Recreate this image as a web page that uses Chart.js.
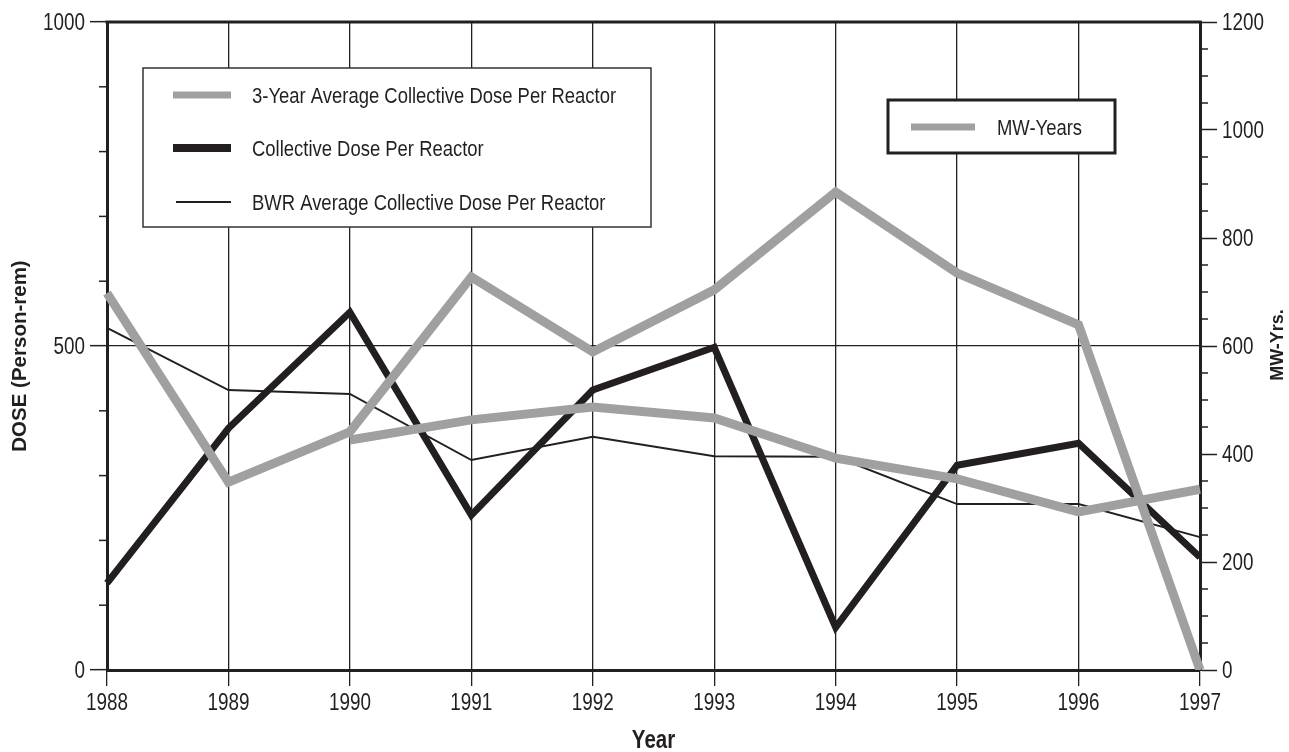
<!DOCTYPE html>
<html>
<head>
<meta charset="utf-8">
<script src="https://cdn.jsdelivr.net/npm/chart.js@4"></script>
<style>
  html, body { margin: 0; padding: 0; background: #fff; }
  #wrap { width: 1289px; height: 752px; }
</style>
</head>
<body>
<div id="wrap"><canvas id="doseChart" width="1289" height="752"></canvas></div>
<script>
const years = ['1988', '1989', '1990', '1991', '1992', '1993', '1994', '1995', '1996', '1997'];
const mwYears = [698, 348, 441, 728, 589, 704, 885, 735, 639, 0];
const threeYearAvg = [null, null, 355, 386, 406, 389, 327, 295, 244, 279];
const collectiveDose = [134, 373, 552, 239, 432, 498, 66, 316, 350, 174];
const bwrAverage = [528, 432, 426, 324, 360, 330, 329, 256, 256, 205];
const doseTicks = [0, 500, 1000];
const mwTicks = [0, 200, 400, 600, 800, 1000, 1200];

const INK = '#231f20';
const GRAY = '#a0a0a0';
const SANS = "'Liberation Sans', Arial, sans-serif";
const SQUEEZE = 0.82; // no narrow face installed, so condense Liberation Sans by hand

// text in a condensed look: horizontal squeeze around the anchor point
function narrowText(ctx, text, x, y, size, align, bold) {
  ctx.save();
  ctx.translate(x, y);
  ctx.scale(SQUEEZE, 1);
  ctx.font = `${bold ? 'bold ' : ''}${size}px ${SANS}`;
  ctx.textAlign = align;
  ctx.textBaseline = 'alphabetic';
  ctx.fillStyle = INK;
  ctx.fillText(text, 0, 0);
  ctx.restore();
}

const decorations = {
  id: 'decorations',
  afterDraw(chart) {
    const { ctx, chartArea: a, scales } = chart;
    const ds = chart.data.datasets;
    ctx.save();
    ctx.strokeStyle = INK;
    ctx.lineWidth = 3;
    ctx.beginPath();
    ctx.moveTo(a.left - 1.5, a.top);
    ctx.lineTo(a.right + 1.5, a.top);
    ctx.stroke();

    // minor ticks
    ctx.lineWidth = 1.5;
    for (let v = 100; v < 1000; v += 100) {
      if (v % 500 === 0) continue;
      const y = scales.y.getPixelForValue(v);
      ctx.beginPath(); ctx.moveTo(a.left - 8, y); ctx.lineTo(a.left, y); ctx.stroke();
    }
    for (let v = 50; v < 1200; v += 50) {
      if (v % 200 === 0) continue;
      const y = scales.y1.getPixelForValue(v);
      ctx.beginPath(); ctx.moveTo(a.right, y); ctx.lineTo(a.right + 8, y); ctx.stroke();
    }
    ctx.restore();

    // tick labels
    chart.data.labels.forEach((lab, i) => narrowText(ctx, lab, scales.x.getPixelForTick(i), 710, 23, 'center'));
    doseTicks.forEach(v => narrowText(ctx, String(v), a.left - 22, scales.y.getPixelForValue(v) + 8, 23, 'right'));
    mwTicks.forEach(v => narrowText(ctx, String(v), a.right + 22, scales.y1.getPixelForValue(v) + 8, 23, 'left'));

    // axis titles
    narrowText(ctx, 'Year', (a.left + a.right) / 2, 748, 25, 'center', true);
    ctx.save();
    ctx.fillStyle = INK;
    ctx.textAlign = 'center';
    ctx.textBaseline = 'middle';
    ctx.font = `bold 20.5px ${SANS}`;
    ctx.translate(20, 356);
    ctx.rotate(-Math.PI / 2);
    ctx.fillText('DOSE (Person-rem)', 0, 0);
    ctx.restore();
    ctx.save();
    ctx.fillStyle = INK;
    ctx.textAlign = 'center';
    ctx.textBaseline = 'middle';
    ctx.font = `bold 18px ${SANS}`;
    ctx.translate(1278, 345);
    ctx.rotate(-Math.PI / 2);
    ctx.fillText('MW-Yrs.', 0, 0);
    ctx.restore();

    // dose legend
    ctx.save();
    ctx.fillStyle = '#fff';
    ctx.fillRect(143, 68, 508, 159);
    ctx.strokeStyle = '#333';
    ctx.lineWidth = 1.5;
    ctx.strokeRect(143, 68, 508, 159);
    [[1, 95, 7], [2, 148, 8], [3, 202, 2]].forEach(([i, y, w]) => {
      ctx.strokeStyle = ds[i].borderColor;
      ctx.lineWidth = w;
      ctx.beginPath(); ctx.moveTo(i === 3 ? 176 : 173, y); ctx.lineTo(231, y); ctx.stroke();
      narrowText(ctx, ds[i].label, 252, y + 8, 22.5, 'left');
    });

    // MW legend
    ctx.fillStyle = '#fff';
    ctx.fillRect(888, 100, 227, 53);
    ctx.strokeStyle = INK;
    ctx.lineWidth = 3;
    ctx.strokeRect(888, 100, 227, 53);
    ctx.strokeStyle = ds[0].borderColor;
    ctx.lineWidth = 7;
    ctx.beginPath(); ctx.moveTo(911, 127); ctx.lineTo(975, 127); ctx.stroke();
    ctx.restore();
    narrowText(ctx, ds[0].label, 997, 135, 22.5, 'left');
  }
};

new Chart(document.getElementById('doseChart'), {
  type: 'line',
  data: {
    labels: years,
    datasets: [
      { label: 'MW-Years', data: mwYears, yAxisID: 'y1', borderColor: GRAY, borderWidth: 9, order: 0 },
      { label: '3-Year Average Collective Dose Per Reactor', data: threeYearAvg, yAxisID: 'y', borderColor: GRAY, borderWidth: 9, order: 1 },
      { label: 'Collective Dose Per Reactor', data: collectiveDose, yAxisID: 'y', borderColor: INK, borderWidth: 7, order: 2 },
      { label: 'BWR Average Collective Dose Per Reactor', data: bwrAverage, yAxisID: 'y', borderColor: INK, borderWidth: 2, order: 3 }
    ]
  },
  options: {
    responsive: false,
    animation: false,
    devicePixelRatio: 1,
    layout: { padding: { top: 22, left: 0, right: 0, bottom: 0 } },
    elements: {
      point: { radius: 0 },
      line: { tension: 0, borderJoinStyle: 'miter', borderCapStyle: 'butt', fill: false }
    },
    plugins: { legend: { display: false }, tooltip: { enabled: false } },
    scales: {
      x: {
        offset: false,
        afterFit: s => { s.height = 82; },
        grid: { color: INK, lineWidth: 1.3, tickLength: 16, tickColor: INK, offset: false },
        border: { color: INK, width: 3 },
        ticks: { display: false }
      },
      y: {
        position: 'left',
        min: 0, max: 1000,
        afterFit: s => { s.width = 107; },
        afterBuildTicks: s => { s.ticks = doseTicks.map(v => ({ value: v })); },
        grid: { color: INK, lineWidth: 1.3, tickLength: 17, tickColor: INK, tickWidth: 1.5 },
        border: { color: INK, width: 3 },
        ticks: { display: false }
      },
      y1: {
        position: 'right',
        min: 0, max: 1200,
        afterFit: s => { s.width = 89; },
        afterBuildTicks: s => { s.ticks = mwTicks.map(v => ({ value: v })); },
        grid: { drawOnChartArea: false, tickLength: 17, tickColor: INK, tickWidth: 1.5 },
        border: { color: INK, width: 3 },
        ticks: { display: false }
      }
    }
  },
  plugins: [decorations]
});
</script>
</body>
</html>
